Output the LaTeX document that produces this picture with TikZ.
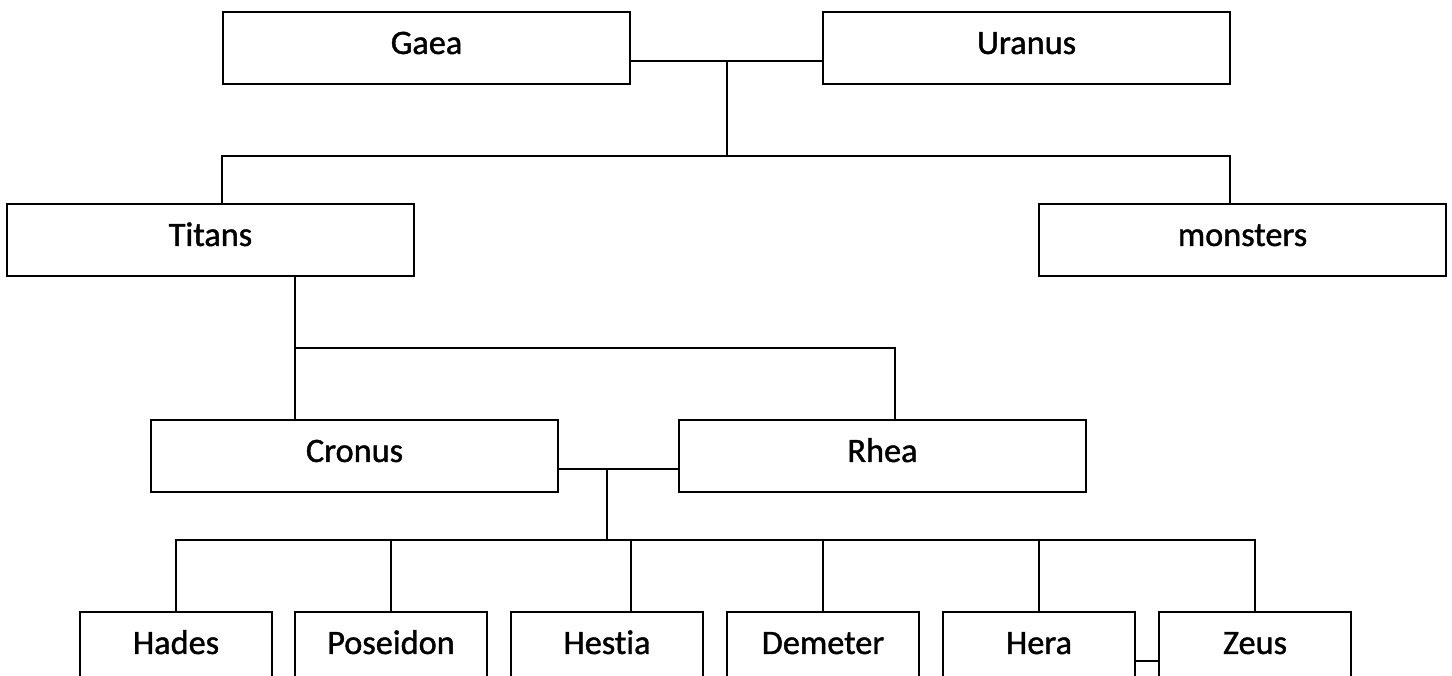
\documentclass[tikz,border=0pt]{standalone}
\usepackage{fontspec}
\setmainfont{Carlito}
\newfontfamily\godfont{Carlito}[FakeBold=1.2, Ligatures=NoCommon]
\usepackage{tikz}

\begin{document}
\begin{tikzpicture} [
    god/.style={draw, line width=1.3pt, minimum width=8.14cm, minimum height=1.44cm,
                inner sep=0pt, text height=0.5cm, text depth=0.26cm,
                font=\godfont\fontsize{19.5}{23}\selectfont},
    kid/.style={god, minimum width=3.84cm},
    link/.style={line width=1.1pt}]
    \useasboundingbox (0,0) rectangle (29.04,13.52);
    \clip (0,0) rectangle (29.04,13.52);
                      % first couple
    \node[god] (gaea) at (8.53,12.56) {Gaea};
    \node[god] (uranus) at (20.53,12.56) {Uranus};
    \node[god] (titans) at (4.21,8.72) {Titans};
    \node[god] (monsters) at (24.85,8.72) {monsters};
                      % second couple
    \node[god] (cronus) at (7.09,4.40) {Cronus};
    \node[god] (rhea) at (17.65,4.40) {Rhea};
                      % children
    \node[kid] (hades) at (3.52,0.56) {Hades};
    \node[kid] (poseidon) at (7.82,0.56) {Poseidon};
    \node[kid] (hestia) at (12.14,0.56) {Hestia};
    \node[kid] (demeter) at (16.46,0.56) {Demeter};
    \node[kid] (hera) at (20.78,0.56) {Hera};
    \node[kid] (zeus) at (25.10,0.56) {Zeus};

    \coordinate (m1) at (14.54,12.30); % middle of Gaea - Uranus
    \coordinate (j1) at (14.54,10.40); % branch to Titans, monsters
    \coordinate (j2) at (5.90,6.56);   % branch to Cronus, Rhea
    \coordinate (m2) at (12.14,4.14);  % middle of Cronus - Rhea
    \coordinate (j3) at (12.14,2.72);  % branch to children

    \draw[link] ([yshift=-0.26cm]gaea.east) -- ([yshift=-0.26cm]uranus.west);
    \draw[link] (m1) -- (j1);
    \draw[link] (j1) -| ([xshift=0.23cm]titans.north);
    \draw[link] (j1) -| ([xshift=-0.25cm]monsters.north);

    \draw[link] ([xshift=1.69cm]titans.south) -- ([xshift=-1.19cm]cronus.north);
    \draw[link] (j2) -| ([xshift=0.25cm]rhea.north);

    \draw[link] ([yshift=-0.26cm]cronus.east) -- ([yshift=-0.26cm]rhea.west);
    \draw[link] (m2) -- (j3);
    \draw[link] (hades.north) -- (hades.north |- j3) -- (zeus.north |- j3) -- (zeus.north);
    \foreach \k in {poseidon,demeter,hera}
        \draw[link] (\k.north) -- (\k.north |- j3);
    \draw[link] ([xshift=0.48cm]hestia.north) -- ([xshift=0.48cm]hestia.north |- j3);

    \draw[link] ([yshift=-0.26cm]hera.east) -- ([yshift=-0.26cm]zeus.west);
\end{tikzpicture}
\end{document}
